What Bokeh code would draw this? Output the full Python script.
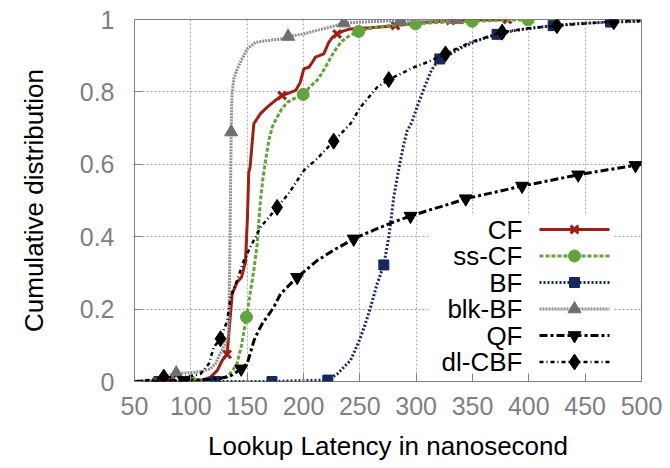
from bokeh.plotting import figure
from bokeh.models import Range1d, FixedTicker
from bokeh.core.properties import value
from bokeh.embed import file_html
from bokeh.resources import INLINE

# ---- lookup latency CDFs (ns vs cumulative fraction) ----
cf_lat = [50, 81, 100, 110, 117.5, 123.4, 127.8, 132.2, 134.5, 136.7, 141, 145, 148.5, 150.2,
          151.4, 152.5, 155.9, 161.8, 167.8, 174, 181, 188, 193, 197, 200.3, 204.7, 207.5,
          210.6, 214, 218, 222.4, 226, 229.8, 235, 241.7, 259.5, 281.6, 300, 330.5, 381]
cf_cdf = [0, 0, 0.001, 0.004, 0.012, 0.03, 0.058, 0.075, 0.16, 0.242, 0.274, 0.288, 0.33, 0.45,
          0.578, 0.59, 0.712, 0.74, 0.758, 0.774, 0.79, 0.798, 0.804, 0.825, 0.864, 0.868, 0.88,
          0.896, 0.900, 0.905, 0.937, 0.952, 0.960, 0.968, 0.974, 0.977, 0.983, 0.99, 0.997, 1.0]
cf_mark_lat = [81, 132.2, 181, 229.8, 281.6, 330.5, 381]
cf_mark_cdf = [0, 0.075, 0.79, 0.960, 0.983, 0.997, 1.0]

sscf_lat = [50, 99.7, 115, 125, 132, 137, 141, 145, 149.4, 153, 156, 158.9, 161.8, 164, 166.3,
            169.2, 172.5, 176.6, 180.5, 185.5, 192, 199.7, 206, 212, 216, 221, 225, 229.8, 234,
            238.7, 244, 249, 257, 265.4, 280, 299.4, 320, 349.7, 375, 399.4]
sscf_cdf = [0, 0, 0.002, 0.006, 0.012, 0.03, 0.049, 0.1, 0.178, 0.25, 0.31, 0.38, 0.5, 0.56, 0.61,
            0.666, 0.705, 0.73, 0.752, 0.771, 0.782, 0.793, 0.815, 0.832, 0.85, 0.877, 0.9, 0.923,
            0.94, 0.951, 0.96, 0.967, 0.974, 0.979, 0.984, 0.988, 0.992, 0.995, 0.998, 0.999]
sscf_mark_lat = [99.7, 149.4, 199.7, 249, 299.4, 349.7, 399.4]
sscf_mark_cdf = [0, 0.178, 0.793, 0.967, 0.988, 0.995, 0.999]

bf_lat = [50, 71.6, 122, 172, 221.6, 230, 236, 241.7, 246, 250.6, 255, 259.5, 265.4, 271.3, 275.7,
          278, 280.1, 283, 286, 289, 292, 296, 301, 306.8, 312.7, 316, 321, 326, 330.5, 340, 348,
          360, 371.8, 385, 400, 421.6, 445, 472.5, 500]
bf_cdf = [0, 0, 0, 0, 0.004, 0.021, 0.04, 0.058, 0.088, 0.122, 0.16, 0.205, 0.27, 0.322, 0.399,
          0.455, 0.509, 0.56, 0.61, 0.655, 0.693, 0.715, 0.76, 0.808, 0.854, 0.872, 0.891, 0.9,
          0.905, 0.922, 0.933, 0.948, 0.959, 0.968, 0.975, 0.983, 0.989, 0.993, 0.995]
bf_mark_lat = [71.6, 122, 172, 221.6, 271.3, 321, 371.8, 421.6, 472.5]
bf_mark_cdf = [0, 0, 0, 0.004, 0.322, 0.891, 0.959, 0.983, 0.993]

blkbf_lat = [50, 65, 75, 87, 100, 110, 117.5, 122, 126, 130, 133.7, 134.6, 135.3, 135.8, 136.5,
             138.1, 141, 144, 150, 157.4, 168, 179.6, 186.4, 200, 212, 225, 235.8, 260, 286, 310,
             336.4]
blkbf_cdf = [0, 0.003, 0.012, 0.023, 0.024, 0.028, 0.035, 0.05, 0.077, 0.1, 0.13, 0.35, 0.55,
             0.689, 0.79, 0.836, 0.862, 0.882, 0.919, 0.937, 0.942, 0.946, 0.953, 0.96, 0.97,
             0.98, 0.99, 0.994, 0.997, 0.998, 0.999]
blkbf_mark_lat = [87, 135.8, 186.4, 235.8, 286, 336.4]
blkbf_mark_cdf = [0.023, 0.689, 0.953, 0.99, 0.997, 0.999]

qf_lat = [50, 70, 93.8, 110, 125, 135, 140, 144.7, 147, 150, 153, 156, 160, 163.3, 168, 173.6,
          179.6, 186, 194.4, 203, 212, 228, 244.6, 256, 268.3, 281, 295, 312, 330.5, 344, 370,
          394, 420, 443.8, 470, 494.7, 500]
qf_cdf = [0, 0.001, 0.003, 0.005, 0.008, 0.015, 0.025, 0.035, 0.042, 0.049, 0.08, 0.113, 0.14,
          0.159, 0.18, 0.205, 0.242, 0.262, 0.288, 0.31, 0.334, 0.365, 0.394, 0.41, 0.426, 0.442,
          0.457, 0.474, 0.491, 0.505, 0.523, 0.54, 0.556, 0.571, 0.585, 0.597, 0.6]
qf_mark_lat = [93.8, 144.7, 194.4, 244.6, 295, 344, 394, 443.8, 494.7]
qf_mark_cdf = [0.003, 0.035, 0.288, 0.394, 0.457, 0.505, 0.54, 0.571, 0.597]

dlcbf_lat = [50, 65, 76, 90, 100, 108.6, 116, 120.4, 126.3, 132.3, 135.2, 141, 147, 155.9, 161.8,
             176.6, 187, 200.3, 212, 226.8, 241.7, 250.6, 265.4, 275.7, 298, 309.8, 326, 348,
             376.3, 400, 425, 450, 475.4, 500]
dlcbf_cdf = [0, 0.005, 0.012, 0.012, 0.015, 0.021, 0.049, 0.095, 0.118, 0.168, 0.233, 0.279,
             0.334, 0.39, 0.426, 0.481, 0.52, 0.583, 0.615, 0.664, 0.712, 0.758, 0.813, 0.834,
             0.868, 0.882, 0.905, 0.937, 0.965, 0.976, 0.983, 0.989, 0.994, 0.996]
dlcbf_mark_lat = [76, 126.3, 176.6, 226.8, 275.7, 326, 376.3, 425, 475.4]
dlcbf_mark_cdf = [0.012, 0.118, 0.481, 0.664, 0.834, 0.905, 0.965, 0.983, 0.994]

series_names = ["CF", "ss-CF", "BF", "blk-BF", "QF", "dl-CBF"]

x_ticks = [50, 100, 150, 200, 250, 300, 350, 400, 450, 500]
y_ticks = [0, 0.2, 0.4, 0.6, 0.8, 1]
y_tick_labels = ["0", "0.2", "0.4", "0.6", "0.8", "1"]

FONT = "Liberation Sans"

styles = [
    dict(lat=cf_lat, cdf=cf_cdf, mlat=cf_mark_lat, mcdf=cf_mark_cdf,
         color="#a01f14", width=3, dash="solid", marker="x", msize=11, fill="#a01f14", mline=3),
    dict(lat=sscf_lat, cdf=sscf_cdf, mlat=sscf_mark_lat, mcdf=sscf_mark_cdf,
         color="#62a33c", width=3, dash="4 2", marker="circle", msize=12, fill="#62a33c", mline=1),
    dict(lat=bf_lat, cdf=bf_cdf, mlat=bf_mark_lat, mcdf=bf_mark_cdf,
         color="#16295e", width=3, dash="2 2", marker="square", msize=10, fill="#16295e", mline=1),
    dict(lat=blkbf_lat, cdf=blkbf_cdf, mlat=blkbf_mark_lat, mcdf=blkbf_mark_cdf,
         color="#8f8f8f", width=3, dash="2 1", marker="triangle", msize=13, fill="#6e6e6e", mline=1),
    dict(lat=qf_lat, cdf=qf_cdf, mlat=qf_mark_lat, mcdf=qf_mark_cdf,
         color="#000000", width=3, dash="8 3 3 3", marker="inverted_triangle", msize=13, fill="#000000", mline=1),
    dict(lat=dlcbf_lat, cdf=dlcbf_cdf, mlat=dlcbf_mark_lat, mcdf=dlcbf_mark_cdf,
         color="#000000", width=2.5, dash="4 3 1 3", marker="diamond", msize=16, fill="#000000", mline=1),
]

p = figure(width=670, height=468, x_range=Range1d(50, 500), y_range=Range1d(0, 1),
           output_backend="svg", toolbar_location=None,
           min_border_left=134, min_border_right=29, min_border_top=19, min_border_bottom=87)
p.background_fill_color = "white"
p.border_fill_color = "white"
p.outline_line_color = "#808080"
p.outline_line_width = 1

# pixel-space ranges for the in-plot key
p.extra_x_ranges = {"px": Range1d(134, 641)}
p.extra_y_ranges = {"px": Range1d(381, 19)}

for ax, ticks in ((p.xaxis, x_ticks), (p.yaxis, y_ticks)):
    ax.ticker = FixedTicker(ticks=ticks)
    ax.axis_line_color = None
    ax.major_tick_in = 8
    ax.major_tick_out = 0
    ax.major_tick_line_color = "#808080"
    ax.minor_tick_line_color = None
    ax.major_label_text_font = FONT
    ax.major_label_text_font_size = "25px"
    ax.major_label_text_color = "#808080"
    ax.axis_label_text_font = FONT
    ax.axis_label_text_font_size = "26px"
    ax.axis_label_text_font_style = "normal"
    ax.axis_label_text_color = "#000000"

p.yaxis.major_label_overrides = {v: s for v, s in zip(y_ticks, y_tick_labels)}
p.xaxis.axis_label = "Lookup Latency in nanosecond"
p.yaxis.axis_label = "Cumulative distribution"
p.xaxis.major_label_standoff = 15
p.xaxis.axis_label_standoff = 13
p.yaxis.major_label_standoff = 20
p.yaxis.axis_label_standoff = 28

for g in (p.xgrid, p.ygrid):
    g.grid_line_color = "#a8a8a8"
    g.grid_line_dash = "2 2"
    g.grid_line_width = 1
p.xgrid.ticker = FixedTicker(ticks=x_ticks)
p.ygrid.ticker = FixedTicker(ticks=y_ticks)

for s in styles:
    p.line(s["lat"], s["cdf"], line_color=s["color"], line_width=s["width"], line_dash=s["dash"])
    p.scatter(s["mlat"], s["mcdf"], marker=s["marker"], size=s["msize"],
              fill_color=s["fill"], line_color=s["fill"], line_width=s["mline"])

# key: white panel, right-aligned labels, line sample with marker
key_top, key_row = 229, 26.5
p.quad(left=[428], right=[614], top=[215], bottom=[377], fill_color="white", line_color=None,
       x_range_name="px", y_range_name="px")
for i, (name, s) in enumerate(zip(series_names, styles)):
    yy = key_top + i * key_row
    p.text(x=[522], y=[yy], text=[name], text_align="right", text_baseline="middle",
           text_font=value(FONT), text_font_size="26px", text_color="#000000",
           x_range_name="px", y_range_name="px")
    p.segment(x0=[539], x1=[609], y0=[yy], y1=[yy], line_color=s["color"],
              line_width=s["width"], line_dash=s["dash"], x_range_name="px", y_range_name="px")
    p.scatter(x=[574], y=[yy], marker=s["marker"], size=s["msize"], fill_color=s["fill"],
              line_color=s["fill"], line_width=s["mline"], x_range_name="px", y_range_name="px")

open("out.html", "w").write(file_html(p, INLINE))
